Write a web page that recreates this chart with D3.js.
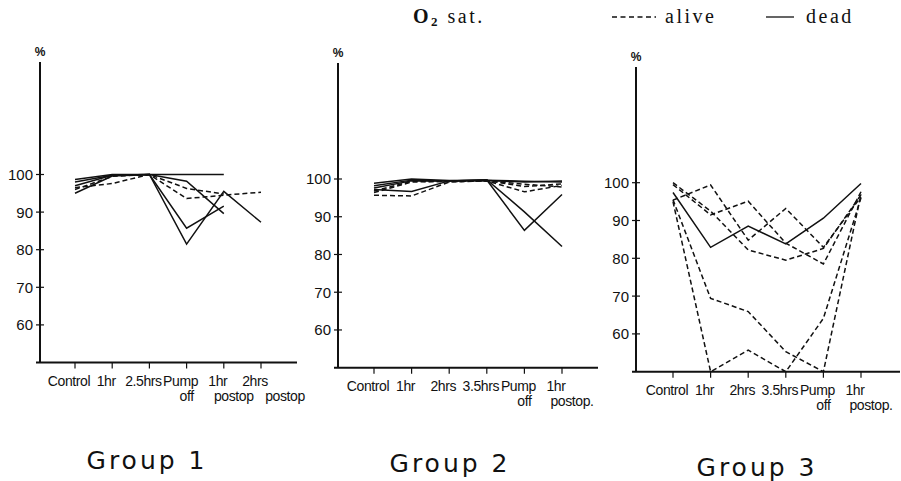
<!DOCTYPE html>
<html>
<head>
<meta charset="utf-8">
<script src="https://cdn.jsdelivr.net/npm/d3@7"></script>
<style>
  html, body { margin: 0; padding: 0; background: #fff; }
  svg { display: block; }
  .tick-label { font-family: "Liberation Sans", Arial, sans-serif; font-size: 15px; fill: #111; }
  .cat-label { font-family: "Liberation Sans", Arial, sans-serif; font-size: 14px; fill: #111; letter-spacing: -0.4px; }
  .title { font-family: "DejaVu Sans", sans-serif; font-size: 25px; fill: #111; letter-spacing: 3px; }
  .legend { font-family: "Liberation Serif", "DejaVu Serif", serif; font-size: 20px; fill: #111; letter-spacing: 2.5px; }
</style>
</head>
<body>
<svg id="chart" width="901" height="481"></svg>
<script>
// O2 saturation (%) per time point; solid = dead, dashed = alive
const categories1 = ["Control", "1hr", "2.5hrs", "Pump off", "1hr postop", "2hrs postop"];
const categories2 = ["Control", "1hr", "2hrs", "3.5hrs", "Pump off", "1hr postop."];
const categories3 = ["Control", "1hr", "2hrs", "3.5hrs", "Pump off", "1hr postop."];
const yTicks = [60, 70, 80, 90, 100];

const group1Dead = [
  [98.7, 100, 100, 100, 100, null],
  [98.0, 99.8, 100, 98.2, 89.6, null],
  [97.0, 99.8, 100, 85.7, 91.6, null],
  [95.0, 99.6, 100, 81.5, 95.5, 87.3]
];
const group1Alive = [
  [96.0, 99.5, 100, 96.3, 94.8, null],
  [96.5, 97.6, 100, 93.6, 94.5, 95.3]
];

const group2Dead = [
  [98.9, 100, 99.6, 99.7, 99.4, 99.2],
  [97.2, 96.7, 99.5, 99.6, 99.2, 99.5],
  [97.6, 99.5, 99.5, 99.7, 86.4, 95.9],
  [98.2, 99.7, 99.5, 99.8, 91.3, 82.1]
];
const group2Alive = [
  [95.7, 95.5, 99.2, 99.5, 96.6, 98.3],
  [96.4, 99.2, 99.4, 99.6, 98.0, 98.7],
  [96.8, 99.4, 99.3, 99.5, 98.6, 97.9]
];

const group3Dead = [
  [97.4, 82.9, 88.5, 83.8, 90.6, 99.8]
];
const group3Alive = [
  [100, 92.5, 82.2, 79.5, 82.6, 96.8],
  [99.5, 91.5, 95.1, 84.0, 78.5, 97.6],
  [95.4, 99.4, 84.8, 93.2, 82.9, 96.3],
  [95.5, 69.4, 65.9, 55.3, 50.0, 97.0],
  [95.0, 50.0, 55.7, 50.0, 64.1, 96.0]
];

const titles = ["Group 1", "Group 2", "Group 3"];

const svg = d3.select("#chart");

// panel frames
const panels = [
  { cats: categories1, dead: group1Dead, alive: group1Alive, title: titles[0],
    axisX: 40, top: 62, y100: 174.5, y50: 362.5, x0: 75, x1: 261, xEnd: 297, titleX: 147, titleY: 469 },
  { cats: categories2, dead: group2Dead, alive: group2Alive, title: titles[1],
    axisX: 338, top: 63, y100: 179, y50: 367.7, x0: 374, x1: 562, xEnd: 598, titleX: 450, titleY: 472 },
  { cats: categories3, dead: group3Dead, alive: group3Alive, title: titles[2],
    axisX: 636, top: 67, y100: 182.7, y50: 371.7, x0: 673, x1: 861, xEnd: 900, titleX: 757, titleY: 476 }
];

panels.forEach(p => {
  const g = svg.append("g");
  const x = d3.scalePoint().domain(p.cats).range([p.x0, p.x1]);
  const y = d3.scaleLinear().domain([50, 100]).range([p.y50, p.y100]);

  // y axis line
  g.append("line")
    .attr("x1", p.axisX).attr("x2", p.axisX)
    .attr("y1", p.top).attr("y2", y(50))
    .attr("stroke", "#111").attr("stroke-width", 2);
  // x axis line
  g.append("line")
    .attr("x1", p.axisX - 4).attr("x2", p.xEnd)
    .attr("y1", y(50)).attr("y2", y(50))
    .attr("stroke", "#111").attr("stroke-width", 2);

  // y ticks and labels
  yTicks.forEach(t => {
    g.append("line")
      .attr("x1", p.axisX - 4).attr("x2", p.axisX + 4)
      .attr("y1", y(t)).attr("y2", y(t))
      .attr("stroke", "#111").attr("stroke-width", 1.2);
    g.append("text").attr("class", "tick-label")
      .attr("x", p.axisX - 7).attr("y", y(t)).attr("dy", "0.36em")
      .attr("text-anchor", "end").text(t);
  });

  g.append("text").attr("class", "tick-label")
    .attr("x", p.axisX).attr("y", p.top - 6)
    .attr("text-anchor", "middle").style("font-size", "12px").style("font-weight", "bold")
    .text("%");

  // x ticks and category labels
  let prevSecondLong = false;
  p.cats.forEach(c => {
    const cx = x(c);
    g.append("line")
      .attr("x1", cx).attr("x2", cx)
      .attr("y1", y(50)).attr("y2", y(50) + 6)
      .attr("stroke", "#111").attr("stroke-width", 1.2);
    const parts = c.split(" ");
    g.append("text").attr("class", "cat-label")
      .attr("x", cx - 6).attr("y", y(50) + 23)
      .attr("text-anchor", "middle").text(parts[0]);
    if (parts[1]) {
      const long = parts[1].length > 3;
      const shift = long ? (prevSecondLong ? 24 : 10) : 0;
      g.append("text").attr("class", "cat-label")
        .attr("x", cx + shift).attr("y", y(50) + 38)
        .attr("text-anchor", "middle").text(parts[1]);
      prevSecondLong = long;
    } else {
      prevSecondLong = false;
    }
  });

  const line = d3.line()
    .defined(d => d.v !== null)
    .x(d => x(d.c))
    .y(d => y(d.v));

  const toPts = arr => arr.map((v, i) => ({ c: p.cats[i], v }));

  p.alive.forEach(s => {
    g.append("path").attr("d", line(toPts(s)))
      .attr("fill", "none").attr("stroke", "#111")
      .attr("stroke-width", 1.5).attr("stroke-dasharray", "5,3");
  });
  p.dead.forEach(s => {
    g.append("path").attr("d", line(toPts(s)))
      .attr("fill", "none").attr("stroke", "#111")
      .attr("stroke-width", 1.5);
  });

  svg.append("text").attr("class", "title")
    .attr("x", p.titleX).attr("y", p.titleY)
    .attr("text-anchor", "middle").text(p.title);
});

// legend
const lg = svg.append("g");
const o2 = lg.append("text").attr("class", "legend").attr("x", 413).attr("y", 23);
o2.append("tspan").style("font-weight", "bold").text("O");
o2.append("tspan").attr("font-size", "13px").attr("dy", 3).style("font-weight", "bold").text("2");
o2.append("tspan").attr("dy", -3).text(" sat.");

lg.append("line")
  .attr("x1", 612).attr("x2", 656).attr("y1", 17).attr("y2", 17)
  .attr("stroke", "#111").attr("stroke-width", 1.3).attr("stroke-dasharray", "5,3.5");
lg.append("text").attr("class", "legend").attr("x", 665).attr("y", 23).text("alive");
lg.append("line")
  .attr("x1", 766).attr("x2", 794).attr("y1", 17).attr("y2", 17)
  .attr("stroke", "#111").attr("stroke-width", 1.3);
lg.append("text").attr("class", "legend").attr("x", 806).attr("y", 23).text("dead");
</script>
</body>
</html>
